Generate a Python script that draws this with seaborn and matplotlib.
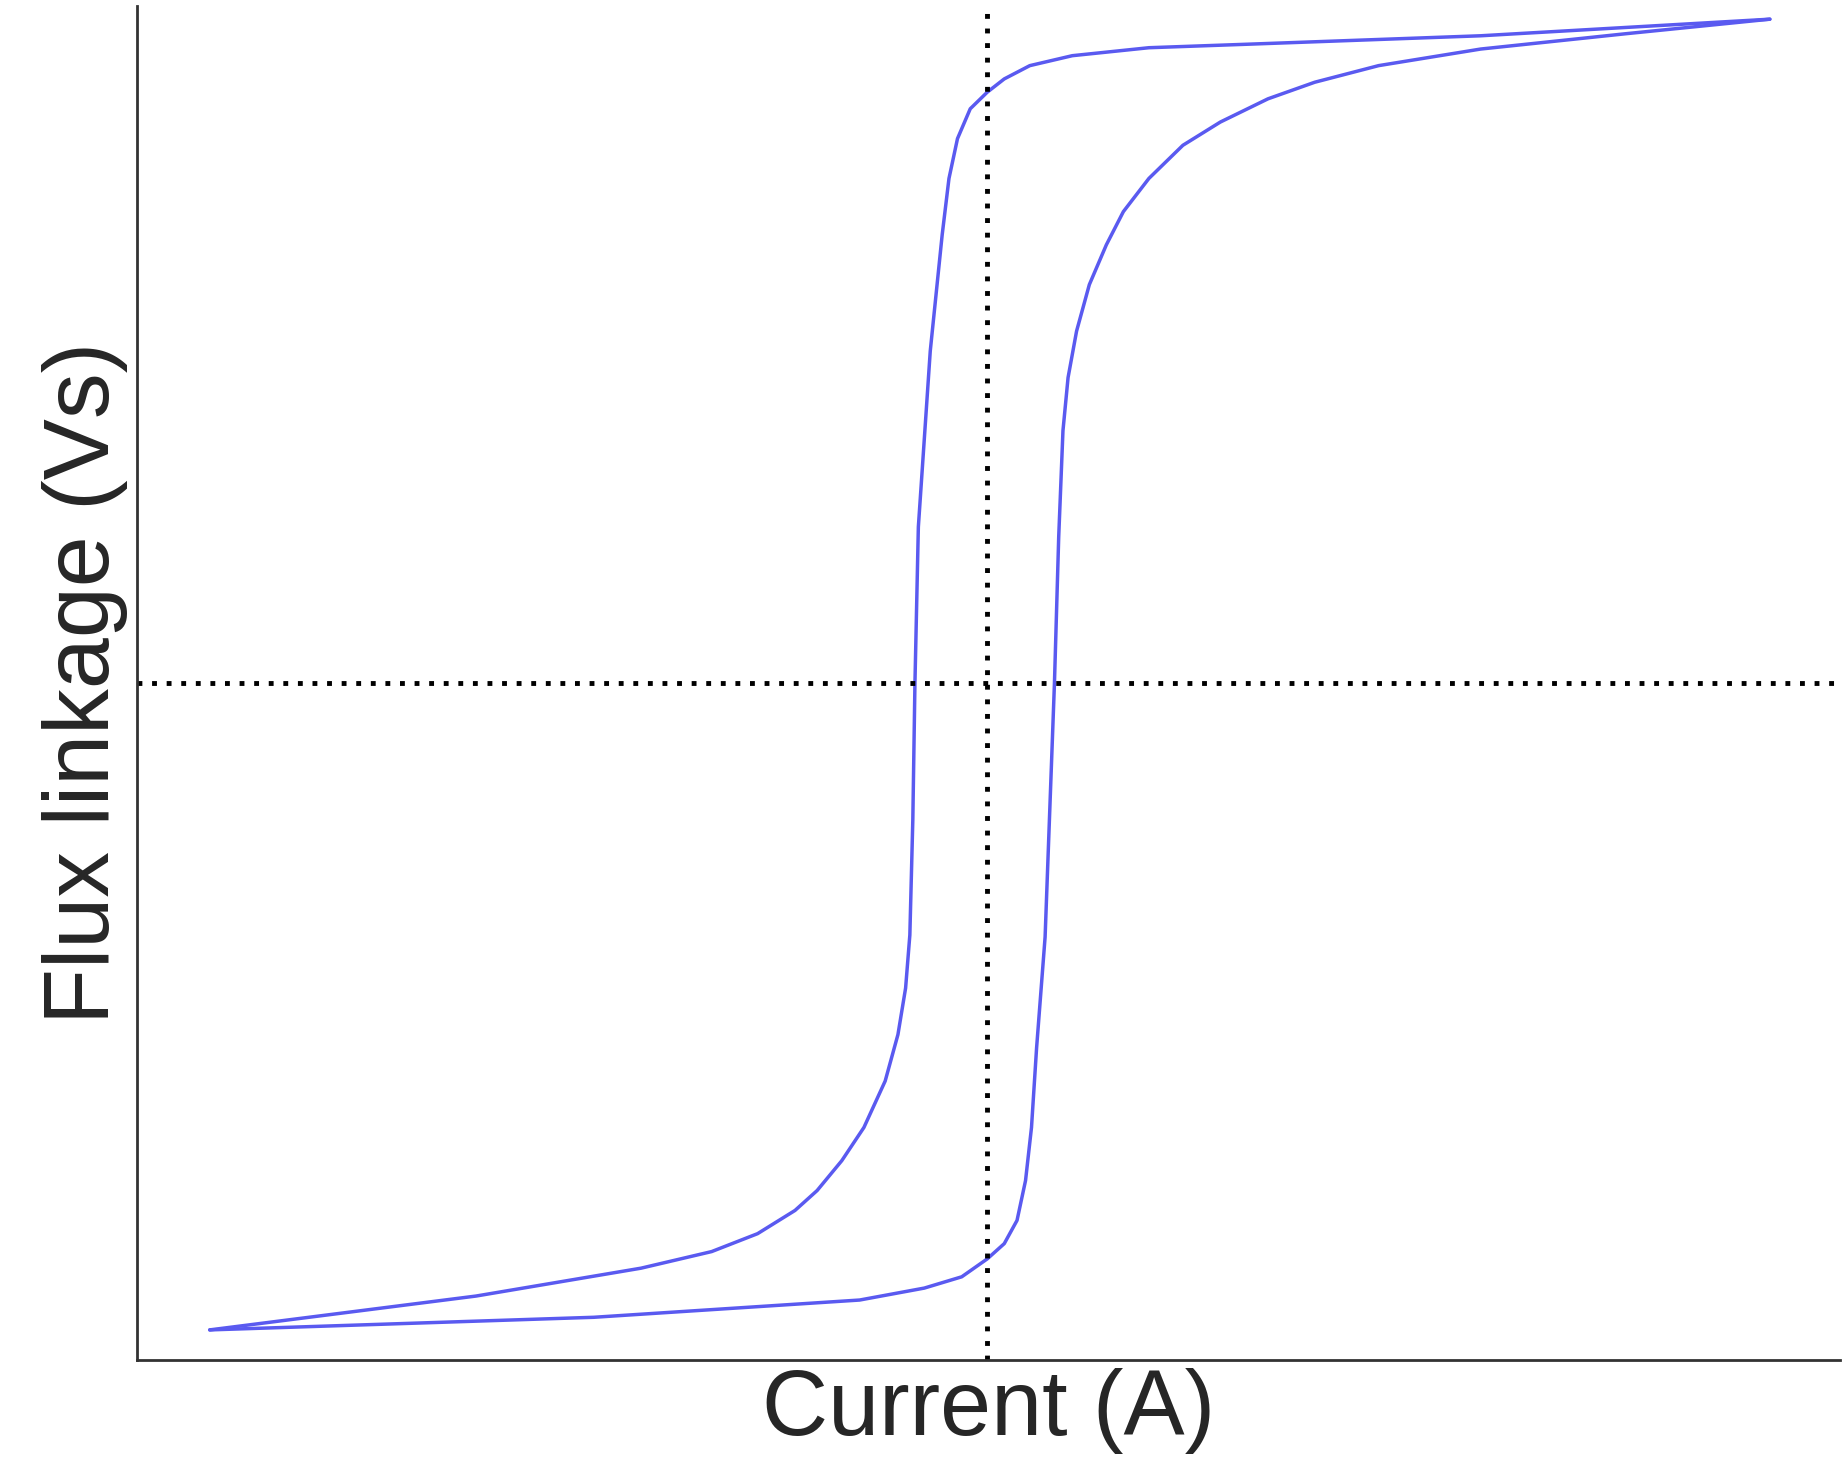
import matplotlib
matplotlib.use("Agg")
import matplotlib.pyplot as plt
import seaborn as sns
import pandas as pd

sns.set_theme(style="white")
plt.rcParams['font.family'] = ['Liberation Sans', 'DejaVu Sans']

desc_x = [0.92, 0.58, 0.3, 0.19, 0.1, 0.05, 0.02, 0.0, -0.02, -0.035, -0.045, -0.053, -0.067, -0.081, -0.085,
          -0.0875, -0.091, -0.096, -0.105, -0.12, -0.145, -0.171, -0.2, -0.226, -0.27, -0.324, -0.407, -0.601, -0.914]
desc_y = [1.0, 0.975, 0.962, 0.957, 0.945, 0.93, 0.91, 0.89, 0.865, 0.82, 0.76, 0.675, 0.5, 0.235, 0.0,
          -0.206, -0.38, -0.46, -0.53, -0.6, -0.67, -0.72, -0.765, -0.795, -0.83, -0.857, -0.882, -0.924, -0.975]
asc_x = [-0.914, -0.4625, -0.15, -0.074, -0.03, 0.0, 0.02, 0.035, 0.045, 0.052, 0.058, 0.068, 0.079, 0.084,
         0.089, 0.095, 0.105, 0.12, 0.14, 0.16, 0.19, 0.23, 0.274, 0.33, 0.385, 0.46, 0.58, 0.75, 0.92]
asc_y = [-0.975, -0.956, -0.93, -0.912, -0.895, -0.868, -0.845, -0.81, -0.75, -0.67, -0.55, -0.383, 0.0, 0.22,
         0.38, 0.46, 0.53, 0.6, 0.66, 0.71, 0.76, 0.81, 0.845, 0.88, 0.905, 0.93, 0.955, 0.978, 1.0]

df = pd.DataFrame({"x": desc_x + asc_x, "y": desc_y + asc_y,
                   "branch": ["desc"] * len(desc_x) + ["asc"] * len(asc_x)})

fig = plt.figure(figsize=(18.46, 14.78), dpi=100)
ax = fig.add_axes([0.074, 0.08, 0.923, 0.916])
sns.lineplot(data=df, x="x", y="y", units="branch", estimator=None, sort=False,
             color="#5a5af0", linewidth=2.5, ax=ax)
ax.axvline(0, color="black", linestyle=(0, (1, 2)), linewidth=3.5)
ax.axhline(0, color="black", linestyle=(0, (1, 2)), linewidth=3.5)
ax.set_xlim(-1.0, 1.003)
ax.set_ylim(-1.02, 1.02)
ax.set_xticks([]); ax.set_yticks([])
ax.set_xlabel("Current (A)", fontsize=66, labelpad=6)
ax.set_ylabel("Flux linkage (Vs)", fontsize=66, labelpad=6)
for s in ["top", "right"]:
    ax.spines[s].set_visible(False)
for s in ["left", "bottom"]:
    ax.spines[s].set_color("#333333")
    ax.spines[s].set_linewidth(2)
fig.savefig("out.png", dpi=100)
